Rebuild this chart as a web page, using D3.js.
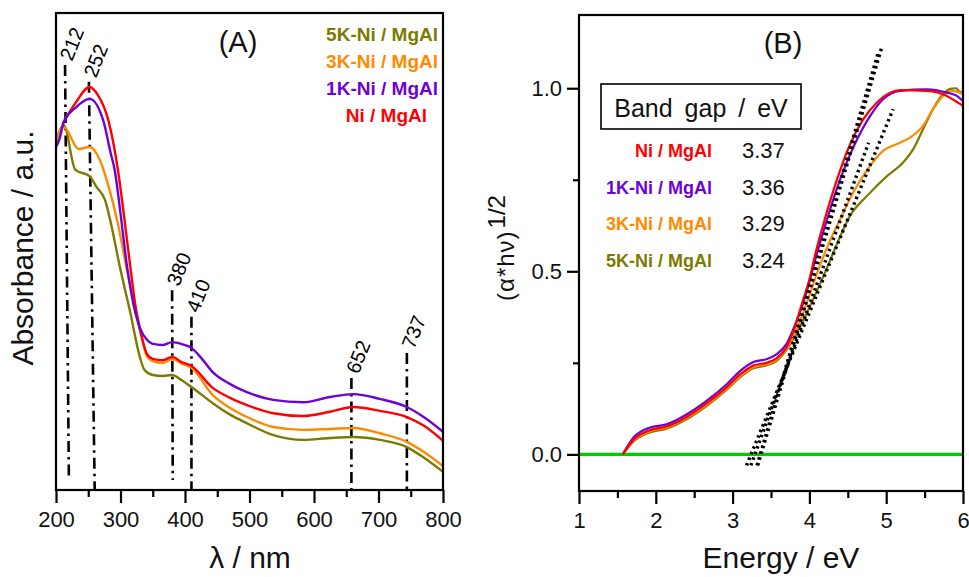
<!DOCTYPE html>
<html lang="en">
<head>
<meta charset="UTF-8">
<title>UV-vis spectra and band gap</title>
<script src="https://cdn.jsdelivr.net/npm/d3@7"></script>
<style>
  body { margin: 0; background: #fff; }
  text { font-family: "Liberation Sans", Arial, sans-serif; fill: #111; }
</style>
</head>
<body>
<script>

// ---- panel A : UV-vis absorbance (a.u.) vs wavelength (nm)
const niNm  = [210,230,252,265,281,296,305,315,325,335,341,350,365,380,395,410,443,470,496,537,583,625,661,702,744,770,800];
const niAbs = [0.767,0.811,0.845,0.828,0.776,0.671,0.580,0.470,0.370,0.310,0.285,0.275,0.272,0.279,0.268,0.260,0.214,0.193,0.178,0.161,0.155,0.164,0.174,0.166,0.153,0.135,0.103];

const k1Nm  = [200,205,212,230,252,273,285,291,300,310,320,330,341,349,365,380,395,410,425,443,470,496,537,583,625,661,702,744,770,800];
const k1Abs = [0.719,0.734,0.771,0.801,0.820,0.776,0.705,0.671,0.580,0.470,0.390,0.340,0.315,0.307,0.304,0.310,0.306,0.298,0.277,0.247,0.222,0.205,0.189,0.184,0.195,0.201,0.191,0.174,0.153,0.122];

const k3Nm  = [200,212,235,252,268,281,296,310,326,335,341,350,365,380,395,410,443,470,496,537,583,625,661,702,744,770,800];
const k3Abs = [0.734,0.761,0.715,0.719,0.692,0.639,0.558,0.461,0.367,0.308,0.280,0.270,0.266,0.275,0.265,0.256,0.199,0.172,0.153,0.132,0.126,0.128,0.130,0.119,0.101,0.080,0.050];

const k5Nm  = [200,212,230,252,263,276,284,299,315,330,337,350,365,380,395,410,443,470,496,537,583,625,661,702,744,770,800];
const k5Abs = [0.730,0.765,0.671,0.658,0.635,0.608,0.566,0.468,0.373,0.279,0.252,0.241,0.239,0.241,0.230,0.216,0.182,0.158,0.140,0.115,0.105,0.109,0.111,0.105,0.090,0.068,0.038];

// peak markers: label, where the line is drawn (top / bottom, nm), top of line (a.u.)
const peakLabels = ["212","252","380","410","652","737"];
const peakTopNm  = [214, 251, 380, 410, 658, 744];
const peakBotNm  = [220, 260, 381, 410, 658, 744];
const peakTopAbs = [0.891, 0.856, 0.419, 0.363, 0.235, 0.287];

const sampleNames  = ["5K-Ni / MgAl","3K-Ni / MgAl","1K-Ni / MgAl","Ni / MgAl"];
const xTicksA = [200,300,400,500,600,700,800];
const xMinorA = [250,350,450,550,650,750];

// ---- panel B : Tauc plot (alpha*h*nu)^1/2 vs energy (eV)
const niE  = [1.57,1.71,1.92,2.14,2.40,2.66,2.92,3.10,3.27,3.44,3.57,3.70,3.79,3.90,4.00,4.08,4.20,4.36,4.53,4.70,4.88,5.05,5.18,5.53,5.79,5.90,6.0];
const niT  = [0,0.040,0.066,0.076,0.102,0.139,0.183,0.219,0.243,0.250,0.262,0.292,0.335,0.410,0.478,0.550,0.642,0.751,0.847,0.915,0.961,0.988,0.995,0.993,0.979,0.965,0.952];

const k1E  = [1.57,1.71,1.92,2.14,2.40,2.66,2.92,3.10,3.27,3.44,3.57,3.70,3.79,3.92,4.01,4.10,4.23,4.40,4.59,4.79,4.96,5.18,5.53,5.79,5.92,6.0];
const k1T  = [0,0.046,0.073,0.082,0.109,0.146,0.191,0.228,0.252,0.260,0.273,0.301,0.342,0.414,0.478,0.550,0.642,0.751,0.847,0.924,0.970,0.993,0.997,0.988,0.979,0.965];

const k3E  = [1.57,1.71,1.92,2.14,2.40,2.66,2.92,3.10,3.27,3.44,3.57,3.70,3.80,3.96,4.10,4.25,4.40,4.57,4.79,4.96,5.18,5.31,5.48,5.61,5.74,5.87,5.96,6.0];
const k3T  = [0,0.037,0.063,0.073,0.099,0.135,0.179,0.214,0.238,0.246,0.258,0.288,0.325,0.410,0.495,0.575,0.642,0.715,0.788,0.829,0.851,0.865,0.897,0.943,0.979,0.993,0.988,0.984];

const k5E  = [1.57,1.71,1.92,2.14,2.40,2.66,2.92,3.10,3.27,3.44,3.57,3.70,3.80,4.03,4.20,4.35,4.53,4.75,5.01,5.22,5.35,5.48,5.61,5.74,5.85,5.91,5.96,6.0];
const k5T  = [0,0.035,0.060,0.070,0.096,0.132,0.176,0.211,0.235,0.243,0.255,0.285,0.318,0.415,0.495,0.570,0.652,0.706,0.760,0.797,0.833,0.888,0.943,0.984,0.999,1.0,0.990,0.990];

// band gaps (table order: Ni, 1K, 3K, 5K) and the end point of each fitted line
const gapNames  = ["Ni / MgAl","1K-Ni / MgAl","3K-Ni / MgAl","5K-Ni / MgAl"];
const bandGaps  = [3.37, 3.36, 3.29, 3.24];
const fitTopE   = [4.94, 4.90, 4.77, 5.09];
const fitTopT   = [1.11, 1.10, 0.851, 0.943];

const xTicksB = [1,2,3,4,5,6];
const xMinorB = [1.5,2.5,3.5,4.5,5.5];
const yTicksB = [0, 0.5, 1.0];
const yMinorB = [0.25, 0.75];

// colours
const colNi = "#ff0000", col1K = "#6e00d8", col3K = "#ff8a00", col5K = "#7d7a00";
const legendColors = [col5K, col3K, col1K, colNi];
const gapColors = [colNi, col1K, col3K, col5K];

const svg = d3.select("body").append("svg")
  .attr("width", 969)
  .attr("height", 577);

const line = d3.line().curve(d3.curveMonotoneX);

// =================== panel A
const xA = d3.scaleLinear().domain([200, 800]).range([56, 443]);
const yA = d3.scaleLinear().domain([0, 1]).range([490, 13]);
const gA = svg.append("g");

// peak guide lines
peakLabels.forEach(function (lab, i) {
  const x1 = xA(peakTopNm[i]), y1 = yA(peakTopAbs[i]);
  const x2 = xA(peakBotNm[i]), y2 = (i === 0 || i === 2) ? 480 : 490;
  gA.append("line")
    .attr("x1", x1).attr("y1", y1).attr("x2", x2).attr("y2", y2)
    .attr("stroke", "#000").attr("stroke-width", 2.6)
    .attr("stroke-dasharray", "11,5,2.5,5");
  gA.append("text")
    .attr("transform", "translate(" + (x1 + 7) + "," + (y1 - 3) + ") rotate(-68)")
    .attr("font-size", 20)
    .style("fill", "#000")
    .text(lab);
});

const seriesA = [
  [k5Nm, k5Abs, col5K], [k3Nm, k3Abs, col3K], [niNm, niAbs, colNi], [k1Nm, k1Abs, col1K]
];
seriesA.forEach(function (s) {
  gA.append("path")
    .attr("d", line(s[0].map((d, j) => [xA(d), yA(s[1][j])])))
    .attr("fill", "none").attr("stroke", s[2]).attr("stroke-width", 2.4);
});

gA.append("rect").attr("x", 56).attr("y", 13).attr("width", 387).attr("height", 477)
  .attr("fill", "none").attr("stroke", "#000").attr("stroke-width", 2.2);

gA.append("g").attr("transform", "translate(0,490)")
  .call(d3.axisBottom(xA).tickValues(xTicksA).tickSize(13).tickSizeOuter(0).tickPadding(8)
    .tickFormat(d3.format("d")));
gA.append("g").attr("transform", "translate(0,490)")
  .call(d3.axisBottom(xA).tickValues(xMinorA).tickSize(7).tickSizeOuter(0).tickFormat(""));

// legend
sampleNames.forEach(function (n, i) {
  gA.append("text")
    .attr("x", i === 3 ? 427 : 438).attr("y", 41 + i * 27)
    .attr("text-anchor", "end").attr("font-size", 19).attr("font-weight", "bold")
    .style("fill", legendColors[i]).text(n);
});
gA.append("text").attr("x", 238).attr("y", 52).attr("text-anchor", "middle")
  .attr("font-size", 29).text("(A)");
gA.append("text").attr("x", 250).attr("y", 568).attr("text-anchor", "middle")
  .attr("font-size", 30).text("λ / nm");
gA.append("text").attr("transform", "translate(33,248) rotate(-90)")
  .attr("text-anchor", "middle").attr("font-size", 30).text("Absorbance / a.u.");

// =================== panel B
const xB = d3.scaleLinear().domain([1, 6]).range([579, 963]);
const yB = d3.scaleLinear().domain([-0.1, 1.2]).range([491, 15]);
const gB = svg.append("g");

gB.append("line")
  .attr("x1", xB(1)).attr("x2", xB(6)).attr("y1", yB(0)).attr("y2", yB(0))
  .attr("stroke", "#00cc00").attr("stroke-width", 3.2);

const seriesB = [
  [k5E, k5T, col5K], [k3E, k3T, col3K], [k1E, k1T, col1K], [niE, niT, colNi]
];
seriesB.forEach(function (s) {
  gB.append("path")
    .attr("d", line(s[0].map((d, j) => [xB(d), yB(s[1][j])])))
    .attr("fill", "none").attr("stroke", s[2]).attr("stroke-width", 2.2);
});

// fitted lines down to the energy axis
bandGaps.forEach(function (g, i) {
  const slope = fitTopT[i] / (fitTopE[i] - g);
  const e0 = g - 0.03 / slope;
  gB.append("line")
    .attr("x1", xB(e0)).attr("y1", yB(-0.03))
    .attr("x2", xB(fitTopE[i])).attr("y2", yB(fitTopT[i]))
    .attr("stroke", "#000").attr("stroke-width", 3.4)
    .attr("stroke-dasharray", "2.5,3.5");
});

gB.append("rect").attr("x", 579).attr("y", 15).attr("width", 384).attr("height", 476)
  .attr("fill", "none").attr("stroke", "#000").attr("stroke-width", 2.2);

gB.append("g").attr("transform", "translate(0,491)")
  .call(d3.axisBottom(xB).tickValues(xTicksB).tickSize(13).tickSizeOuter(0).tickPadding(8)
    .tickFormat(d3.format("d")));
gB.append("g").attr("transform", "translate(0,491)")
  .call(d3.axisBottom(xB).tickValues(xMinorB).tickSize(7).tickSizeOuter(0).tickFormat(""));
gB.append("g").attr("transform", "translate(579,0)")
  .call(d3.axisLeft(yB).tickValues(yTicksB).tickSize(12).tickSizeOuter(0).tickPadding(5)
    .tickFormat(d3.format(".1f")));
gB.append("g").attr("transform", "translate(579,0)")
  .call(d3.axisLeft(yB).tickValues(yMinorB).tickSize(6).tickSizeOuter(0).tickFormat(""));

// band gap table
gB.append("rect").attr("x", 601).attr("y", 84).attr("width", 200).attr("height", 45)
  .attr("fill", "#fff").attr("stroke", "#000").attr("stroke-width", 1.6);
gB.append("text").attr("x", 701).attr("y", 117).attr("text-anchor", "middle")
  .attr("font-size", 25).attr("word-spacing", 5).text("Band gap / eV");
gapNames.forEach(function (n, i) {
  gB.append("text").attr("x", 712).attr("y", 157 + i * 36.5)
    .attr("text-anchor", "end").attr("font-size", 18).attr("font-weight", "bold")
    .style("fill", gapColors[i]).text(n);
  gB.append("text").attr("x", 742).attr("y", 158 + i * 36.5)
    .attr("font-size", 22).text(bandGaps[i].toFixed(2));
});

gB.append("text").attr("x", 783).attr("y", 53).attr("text-anchor", "middle")
  .attr("font-size", 29).text("(B)");
gB.append("text").attr("x", 781).attr("y", 568).attr("text-anchor", "middle")
  .attr("font-size", 30).text("Energy / eV");

const yLab = gB.append("text").attr("transform", "translate(514,248) rotate(-90)")
  .attr("text-anchor", "middle").attr("font-size", 24);
yLab.append("tspan").attr("letter-spacing", 1).text("(α*hν)");
yLab.append("tspan").attr("dy", -9).attr("dx", 2).text("1/2");

// axis text styling
svg.selectAll(".tick text").attr("font-size", 22)
  .attr("font-family", "'Liberation Sans', Arial, sans-serif").style("fill", "#111");
svg.selectAll(".tick line").attr("stroke-width", 2.2);
svg.selectAll(".domain").remove();

</script>
</body>
</html>
